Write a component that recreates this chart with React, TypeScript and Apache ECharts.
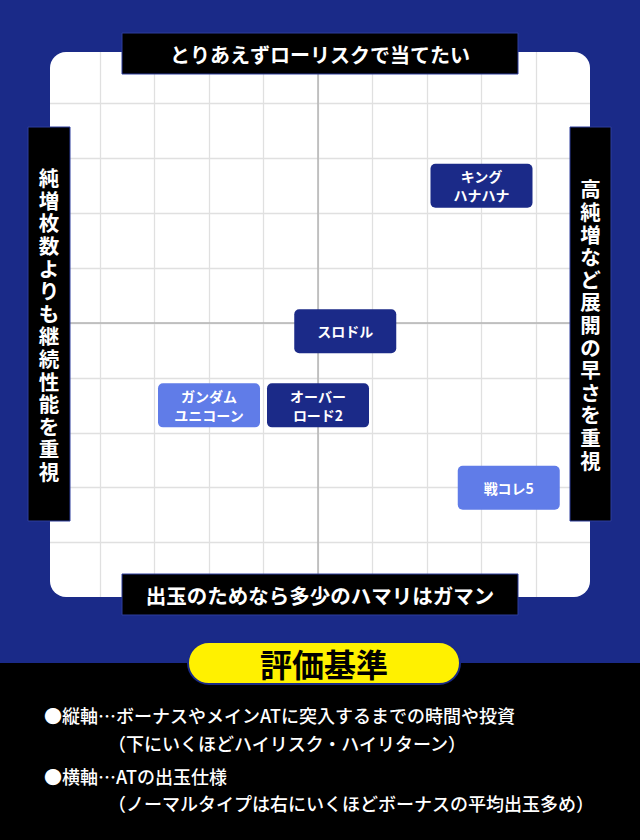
import React, { useEffect, useRef } from 'react';
import * as echarts from 'echarts';

// ---- text content ----
const topLabel = 'とりあえずローリスクで当てたい';
const bottomLabel = '出玉のためなら多少のハマリはガマン';
const leftLabel = '純増枚数よりも継続性能を重視';
const rightLabel = '高純増など展開の早さを重視';
const criteriaTitle = '評価基準';
const criteriaLines = [
  '●縦軸…ボーナスやメインATに突入するまでの時間や投資',
  '（下にいくほどハイリスク・ハイリターン）',
  '●横軸…ATの出玉仕様',
  '（ノーマルタイプは右にいくほどボーナスの平均出玉多め）',
];

// ---- data ----
const darkNames = ['キング\nハナハナ', 'スロドル', 'オーバー\nロード2'];
const darkX = [3, 0.5, 0];
const darkY = [2.5, -0.15, -1.5];
const lightNames = ['ガンダム\nユニコーン', '戦コレ5'];
const lightX = [-2, 3.5];
const lightY = [-1.5, -3];

const axisMin = -5;
const axisMax = 5;
const axisStep = 1;

const FONT = 'Noto Sans CJK JP';
const NAVY = '#1a2a88';
const DARK_BOX = '#1b2a88';
const LIGHT_BOX = '#607ce8';

function buildItems(names: string[], xs: number[], ys: number[], color: string) {
  return names.map((n, i) => {
    const lines = n.split('\n').length;
    const pad = (44 - lines * 19) / 2;
    return {
      name: n,
      value: [xs[i], ys[i]],
      label: { backgroundColor: color, padding: [pad, 0, pad, 0] },
    };
  });
}

function vertical(s: string) {
  return s.split('').join('\n');
}

export default function App() {
  const ref = useRef<HTMLDivElement>(null);
  useEffect(() => {
    if (!ref.current) return;
    const chart = echarts.init(ref.current, undefined, { renderer: 'svg' });
    const labelBase = {
      show: true,
      position: 'inside',
      formatter: '{b}',
      color: '#ffffff',
      opacity: 1,
      fontSize: 14,
      fontWeight: 'bold',
      fontFamily: FONT,
      lineHeight: 19,
      width: 102,
      align: 'center',
      verticalAlign: 'middle',
      borderRadius: 5,
    };
    const boxStroke = '#2c3c9c';
    const titleText = (text: string, x: number, y: number, size: number, extra: any = {}) => ({
      type: 'text',
      z: 11,
      style: {
        text,
        x,
        y,
        fill: '#ffffff',
        fontSize: size,
        fontWeight: 'bold',
        fontFamily: FONT,
        align: 'center',
        verticalAlign: 'middle',
        ...extra,
      },
    });
    const cover = (x: number, y: number, w: number, h: number) => ({
      type: 'rect',
      z: 1,
      shape: { x, y, width: w, height: h },
      style: { fill: NAVY },
    });
    chart.setOption({
      animation: false,
      backgroundColor: NAVY,
      grid: { left: 45.5, top: 48.5, width: 545, height: 549 },
      xAxis: {
        type: 'value',
        min: axisMin,
        max: axisMax,
        interval: axisStep,
        axisLine: { show: true, onZero: true, lineStyle: { color: '#b4b4b4', width: 1.5 } },
        axisTick: { show: false },
        axisLabel: { show: false },
        splitLine: {
          show: true,
          showMinLine: false,
          showMaxLine: false,
          lineStyle: { color: '#e0e0e0', width: 1.3 },
        },
      },
      yAxis: {
        type: 'value',
        min: axisMin,
        max: axisMax,
        interval: axisStep,
        axisLine: { show: true, onZero: true, lineStyle: { color: '#b4b4b4', width: 1.5 } },
        axisTick: { show: false },
        axisLabel: { show: false },
        splitLine: {
          show: true,
          showMinLine: false,
          showMaxLine: false,
          lineStyle: { color: '#e0e0e0', width: 1.3 },
        },
      },
      graphic: [
        {
          type: 'rect',
          z: -5,
          shape: { x: 50, y: 52, width: 540, height: 545, r: 16 },
          style: { fill: '#ffffff' },
        },
        {
          type: 'rect',
          z: -5,
          shape: { x: 0, y: 663, width: 640, height: 177 },
          style: { fill: '#000000' },
        },
        cover(40, 40, 10, 570),
        cover(40, 40, 560, 12),
        cover(40, 597, 560, 6),
        cover(590, 40, 10, 570),
        {
          type: 'rect',
          z: 10,
          shape: { x: 122, y: 33, width: 396, height: 41 },
          style: { fill: '#000000', stroke: boxStroke, lineWidth: 1 },
        },
        titleText(topLabel, 320, 54, 20),
        {
          type: 'rect',
          z: 10,
          shape: { x: 122, y: 574, width: 396, height: 41 },
          style: { fill: '#000000', stroke: boxStroke, lineWidth: 1 },
        },
        titleText(bottomLabel, 320, 595, 20.5),
        {
          type: 'rect',
          z: 10,
          shape: { x: 28, y: 127, width: 42, height: 394 },
          style: { fill: '#000000', stroke: boxStroke, lineWidth: 1 },
        },
        titleText(vertical(leftLabel), 49, 324, 20.5, { lineHeight: 22.6 }),
        {
          type: 'rect',
          z: 10,
          shape: { x: 570, y: 127, width: 41, height: 394 },
          style: { fill: '#000000', stroke: boxStroke, lineWidth: 1 },
        },
        titleText(vertical(rightLabel), 590.5, 324, 20.5, { lineHeight: 22.6 }),
        {
          type: 'rect',
          z: 10,
          shape: { x: 188, y: 642, width: 272, height: 42, r: 21 },
          style: { fill: '#fff100', stroke: NAVY, lineWidth: 2 },
        },
        titleText(criteriaTitle, 324, 663, 32, { fill: '#000000' }),
        ...criteriaLines.map((t, i) => ({
          type: 'text',
          z: 11,
          style: {
            text: t,
            x: i % 2 === 0 ? 44 : 108,
            y: [715, 743, 776, 803][i],
            fill: '#ffffff',
            fontSize: 18,
            fontWeight: 500,
            fontFamily: FONT,
            align: 'left',
            verticalAlign: 'middle',
          },
        })),
      ],
      series: [
        {
          type: 'scatter',
          z: 5,
          symbolSize: 1,
          itemStyle: { color: 'transparent', opacity: 1 },
          label: labelBase,
          emphasis: { disabled: true },
          data: buildItems(darkNames, darkX, darkY, DARK_BOX),
        },
        {
          type: 'scatter',
          z: 5,
          symbolSize: 1,
          itemStyle: { color: 'transparent', opacity: 1 },
          label: labelBase,
          emphasis: { disabled: true },
          data: buildItems(lightNames, lightX, lightY, LIGHT_BOX),
        },
      ],
    });
    return () => chart.dispose();
  }, []);
  return (
    <div
      ref={ref}
      style={{ position: 'fixed', left: 0, top: 0, width: 640, height: 840 }}
    />
  );
}
